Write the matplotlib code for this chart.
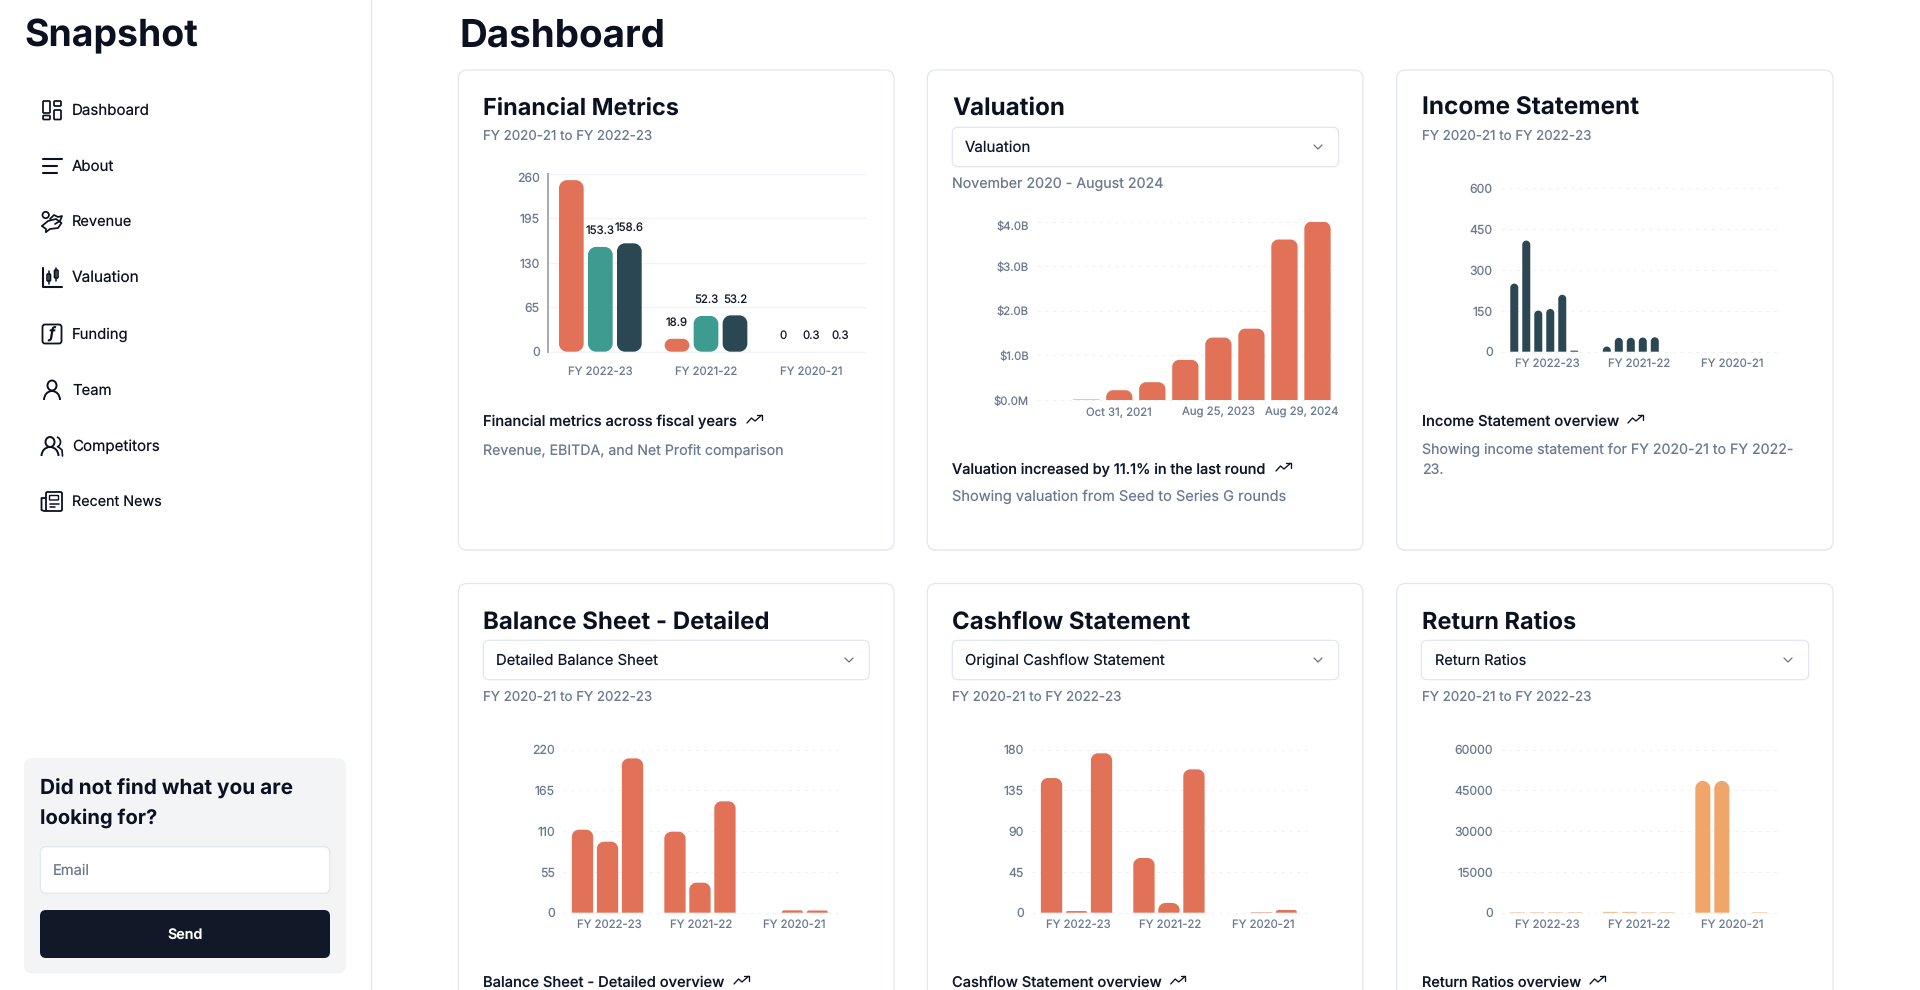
import matplotlib
matplotlib.use("Agg")
import matplotlib.pyplot as plt
from matplotlib.patches import FancyBboxPatch, PathPatch, Circle, Ellipse, Arc
from matplotlib.path import Path
from matplotlib.transforms import ScaledTranslation

# ---------- data ----------
fy_labels = ["FY 2022-23", "FY 2021-22", "FY 2020-21"]

fm_ticks = [0, 65, 130, 195, 260]
fm_revenue = [251, 18.9, 0]
fm_ebitda = [153.3, 52.3, 0.3]
fm_net_profit = [158.6, 53.2, 0.3]
fm_revenue_labels = ["", "18.9", "0"]
fm_ebitda_labels = ["153.3", "52.3", "0.3"]
fm_net_profit_labels = ["158.6", "53.2", "0.3"]

val_ticks = [0, 1, 2, 3, 4]
val_tick_labels = ["$0.0M", "$1.0B", "$2.0B", "$3.0B", "$4.0B"]
val_rounds = [0, 1, 2, 3, 4, 5, 6, 7, 8]
val_billions = [0.0, 0.01, 0.22, 0.40, 0.90, 1.40, 1.60, 3.60, 4.00]
val_label_rounds = [2, 5, 8]
val_labels = ["Oct 31, 2021", "Aug 25, 2023", "Aug 29, 2024"]

inc_ticks = [0, 150, 300, 450, 600]
inc_a = [250, 18.9, 0]
inc_b = [408, 51, 0.3]
inc_c = [151, 51, 0.3]
inc_d = [157, 52, 0.3]
inc_e = [209, 53, 0.3]
inc_f = [4, 0, 0]

bs_ticks = [0, 55, 110, 165, 220]
bs_a = [112, 109.3, 0]
bs_b = [95.8, 40.5, 3.2]
bs_c = [208.3, 150.3, 3]

cf_ticks = [0, 45, 90, 135, 180]
cf_a = [148.7, 60.4, 0]
cf_b = [1.8, 10.7, 0.5]
cf_c = [176, 158.3, 3]

rr_ticks = [0, 15000, 30000, 45000, 60000]
rr_a = [160, 300, 48500]
rr_b = [160, 300, 48500]
rr_c = [160, 160, 0]
rr_d = [160, 160, 160]

# ---------- style ----------
W, H = 1920, 990
FONT = ["Inter", "Noto Sans", "DejaVu Sans"]
plt.rcParams["font.family"] = FONT
plt.rcParams["text.hinting"] = "no_hinting"
CORAL, TEAL, NAVY, SAND = "#E27257", "#3E9B8F", "#2C4754", "#F0A66A"
INK, MUTED, BORDER = "#0b1120", "#6b7a90", "#e2e6f0"

fig = plt.figure(figsize=(W / 100, H / 100), dpi=100, facecolor="white")
ch = fig.add_axes([0, 0, 1, 1], zorder=0)
ch.set_xlim(0, W)
ch.set_ylim(H, 0)
ch.axis("off")
renderer = fig.canvas.get_renderer()


def fit_size(s, width, weight="normal"):
    t = fig.text(0, 0, s, fontsize=20, fontweight=weight)
    w = t.get_window_extent(renderer).width
    t.remove()
    return 20 * width / w


def T(x0, x1, base, s, color=INK, weight="normal", ha="left", size=None):
    fs = size if size else fit_size(s, x1 - x0, weight)
    x = x0 if ha == "left" else (x0 + x1) / 2
    ch.text(x, base, s, fontsize=fs, color=color, fontweight=weight, ha=ha, va="baseline", clip_on=True)


def box(x0, y0, x1, y1, r, fc="white", ec=BORDER, lw=0.9, z=1):
    ch.add_patch(FancyBboxPatch((x0, y0), x1 - x0, y1 - y0, boxstyle=f"round,pad=0,rounding_size={r}",
                                fc=fc, ec=ec, lw=lw, zorder=z, clip_on=True))


def L(xs, ys, lw=1.5, c=INK):
    ch.plot(xs, ys, color=c, lw=lw, solid_capstyle="round", solid_joinstyle="round", zorder=3)


def trend(x0, yc):
    y0 = yc - 4
    L([x0, x0 + 4.5, x0 + 8, x0 + 14.5], [y0 + 8, y0 + 3, y0 + 6, y0 + 0.3], lw=0.95)
    L([x0 + 10, x0 + 14.5, x0 + 14.5], [y0 + 0.3, y0 + 0.3, y0 + 4.5], lw=0.95)


def chevron(xc, yc):
    L([xc - 4, xc, xc + 4], [yc - 2, yc + 2, yc - 2], lw=0.9, c="#6b7280")


def rounded_bar_path(x, w, h, rx, ry, both):
    k = 0.5523
    x0, x1 = x, x + w
    top = h
    ry_b = ry if both else 0
    rxb = rx if both else 0
    v = [(x0, ry_b)]
    c = [Path.MOVETO]
    v += [(x0, top - ry)]
    c += [Path.LINETO]
    v += [(x0, top - ry + k * ry), (x0 + rx - k * rx, top), (x0 + rx, top)]
    c += [Path.CURVE4] * 3
    v += [(x1 - rx, top)]
    c += [Path.LINETO]
    v += [(x1 - rx + k * rx, top), (x1, top - ry + k * ry), (x1, top - ry)]
    c += [Path.CURVE4] * 3
    v += [(x1, ry_b)]
    c += [Path.LINETO]
    if both:
        v += [(x1, ry_b - k * ry_b), (x1 - rxb + k * rxb, 0), (x1 - rxb, 0)]
        c += [Path.CURVE4] * 3
        v += [(x0 + rxb, 0)]
        c += [Path.LINETO]
        v += [(x0 + rxb - k * rxb, 0), (x0, ry_b - k * ry_b), (x0, ry_b)]
        c += [Path.CURVE4] * 3
    else:
        v += [(x0, 0)]
        c += [Path.LINETO]
    v += [v[0]]
    c += [Path.CLOSEPOLY]
    return Path(v, c)


def make_axes(x0, x1, ytop, ybot, n, ymax, ticks, tick_labels=None, solid_grid=False):
    ax = fig.add_axes([x0 / W, 1 - ybot / H, (x1 - x0) / W, (ybot - ytop) / H], zorder=2)
    ax.patch.set_alpha(0)
    ax.set_xlim(-0.5, n - 0.5)
    ax.set_ylim(0, ymax)
    for s in ax.spines.values():
        s.set_visible(False)
    ax.set_yticks(ticks)
    ax.set_yticklabels(tick_labels if tick_labels else [str(t) for t in ticks])
    tfs = fit_size("FY 2022-23", 64.7)
    ax.tick_params(axis="both", length=0, labelcolor=MUTED, labelsize=tfs)
    ax.tick_params(axis="y", pad=5.6, labelsize=tfs if tick_labels else tfs * 1.08)
    ax.set_axisbelow(True)
    if solid_grid:
        ax.grid(axis="y", color="#f3f4f8", lw=1.0, ls="-", clip_on=False)
    else:
        ax.grid(axis="y", color="#eef0f4", lw=0.8, dashes=(3, 4), clip_on=False)
    return ax, (x1 - x0) / n, (ybot - ytop) / ymax


def draw_bars(ax, ppx, ppy, positions, offset_px, width_px, values, color, r_px, both=False):
    pos = [p + offset_px / ppx for p in positions]
    w = width_px / ppx
    bars = ax.bar(pos, values, width=w, color=color, linewidth=0)
    for rect in bars:
        h = rect.get_height()
        h_px = h * ppy
        rect.set_visible(False)
        if h_px < 0.3:
            continue
        r = min(r_px, width_px / 2, h_px / 2 if both else h_px)
        path = rounded_bar_path(rect.get_x(), rect.get_width(), h, r / ppx, r / ppy, both)
        ax.add_patch(PathPatch(path, fc=color, ec="none", lw=0, zorder=2.5))
    return pos


def shift_label(lab, dx_px=0, dy_px=0):
    lab.set_transform(lab.get_transform() + ScaledTranslation(dx_px / 100, -dy_px / 100, fig.dpi_scale_trans))


def x_fy(ax, pad_px):
    ax.set_xticks(range(3))
    ax.set_xticklabels(fy_labels)
    ax.tick_params(axis="x", pad=pad_px * 0.72)


# ---------- page chrome ----------
ch.plot([371, 371], [0, H], color="#e3e8f0", lw=1.0, zorder=1)
T(24.5, 198.4, 46.8, "Snapshot", weight="bold")
T(459, 665, 46.8, "Dashboard", weight="bold")

nav = [("Dashboard", 110, 78), ("About", 166, 42.4), ("Revenue", 222, 60.4), ("Valuation", 278, 67.8),
       ("Funding", 334, 56.7), ("Team", 390, 39.6), ("Competitors", 446, 87.8), ("Recent News", 501, 89.8)]
for name, yc, w in nav:
    T(72.2, 72.2 + w, yc + 5, name, color=INK, weight="normal")

# icons
for (a, b, c, d) in [(43, 101, 50, 113), (43, 115.5, 50, 119.5), (54, 101, 61, 106), (54, 110, 61, 119.5)]:
    box(a, b, c, d, 1, fc="none", ec=INK, lw=1.25, z=3)
L([42.5, 62], [159, 159], lw=1.5)
L([42.5, 57], [166, 166], lw=1.5)
L([42.5, 57], [172.5, 172.5], lw=1.5)
ch.add_patch(Circle((45.7, 215), 3.2, fc="none", ec=INK, lw=1.25, zorder=3))
L([42, 48, 56, 61.5, 58, 50, 46], [226, 221, 219, 223, 228, 229, 232], lw=1.25)
L([42, 46, 46], [226, 229, 232], lw=1.25)
L([50, 54, 58, 62, 60, 55], [219, 215, 217, 216, 221, 224], lw=1.25)
L([42.5, 42.5, 62], [268, 287, 287], lw=1.5)
box(47, 274, 50.5, 281, 1, fc="none", ec=INK, lw=1.2, z=3)
L([48.8, 48.8], [271, 284], lw=1.1)
box(54.5, 270, 58, 278, 1, fc="none", ec=INK, lw=1.2, z=3)
L([56.2, 56.2], [268, 281], lw=1.1)
box(42.5, 324.5, 61.5, 343.5, 2.5, fc="none", ec=INK, lw=1.3, z=3)
ch.text(52, 339, "f", fontsize=11, fontweight="bold", style="italic", ha="center", color=INK, zorder=3)
ch.add_patch(Ellipse((52, 385.5), 9, 10, fc="none", ec=INK, lw=1.4, zorder=3))
ch.add_patch(Arc((52, 400), 16, 18, theta1=180, theta2=360, ec=INK, lw=1.4, zorder=3))
ch.add_patch(Ellipse((50, 442), 9, 10, fc="none", ec=INK, lw=1.4, zorder=3))
ch.add_patch(Arc((50, 456), 17, 18, theta1=180, theta2=360, ec=INK, lw=1.4, zorder=3))
ch.add_patch(Arc((56, 442), 9, 10, theta1=-80, theta2=80, ec=INK, lw=1.2, zorder=3))
L([58.5, 62, 62.5], [447, 450, 456], lw=1.2)
box(46, 492, 62, 511, 1.5, fc="none", ec=INK, lw=1.3, z=3)
L([46, 41.5, 41.5, 44, 46], [498, 498, 510, 511, 511], lw=1.3)
box(49.5, 495.5, 58.5, 500, 0.5, fc="none", ec=INK, lw=1.0, z=3)
L([49.5, 58.5], [503.5, 503.5], lw=1.1)
L([49.5, 55], [507, 507], lw=1.1)

# contact box
box(24, 758, 346, 973.7, 9, fc="#f3f4f6", ec="none", lw=0)
T(40, 293.3, 795, "Did not find what you are", weight="bold")
T(40, 157.3, 823.3, "looking for?", weight="bold")
box(40.3, 846.7, 329.7, 893.3, 6, fc="white", ec=BORDER)
T(53.3, 90.3, 875, "Email", color=MUTED)
box(40, 910, 330, 958, 6, fc="#111827", ec="none", lw=0)
T(167.3, 202.7, 939, "Send", color="white", weight="semibold")

# cards
cards = [(458.3, 894), (927.3, 1363), (1396.7, 1833)]
for (a, b) in cards:
    box(a, 71, b, 551, 9, fc="#f0f1f5", ec="none", lw=0, z=0.9)
    box(a, 70, b, 550, 9)
    box(a, 584.5, b, 1040, 9, fc="#f0f1f5", ec="none", lw=0, z=0.9)
    box(a, 583.5, b, 1040, 9)

# card text
T(483.3, 679.3, 115, "Financial Metrics", weight="bold")
T(483.3, 652.7, 140.3, "FY 2020-21 to FY 2022-23", color=MUTED)
T(483.3, 737.3, 426, "Financial metrics across fiscal years", color="#0f172a", weight="medium")
trend(747, 419)
T(483.3, 784.3, 454, "Revenue, EBITDA, and Net Profit comparison", color=MUTED)

T(952.3, 1065.3, 115, "Valuation", weight="bold")
box(952.3, 127.3, 1338.7, 166.7, 6)
T(965.3, 1031.7, 152, "Valuation", color="#0f172a")
chevron(1318, 147)
T(952.3, 1164, 188.3, "November 2020 - August 2024", color=MUTED)
T(952.3, 1266, 474.3, "Valuation increased by 11.1% in the last round", color="#0f172a", weight="medium")
trend(1276, 467)
T(952.3, 1286.7, 501.3, "Showing valuation from Seed to Series G rounds", color=MUTED)

T(1421.7, 1639, 115, "Income Statement", weight="bold")
T(1421.7, 1591.3, 140.3, "FY 2020-21 to FY 2022-23", color=MUTED)
T(1421.7, 1619, 426, "Income Statement overview", color="#0f172a", weight="medium")
trend(1628, 419)
desc_line = "Showing income statement for FY 2020-21 to FY 2022-"
T(1421.7, 1793.3, 454, desc_line, color=MUTED)
T(1421.7, 1440, 474, "23.", color=MUTED, size=fit_size(desc_line, 1793.3 - 1421.7))

row2 = [
    (483.3, 770, "Balance Sheet - Detailed", 483.3, 869.3, 495.7, 657.7, "Detailed Balance Sheet", 849,
     652.7, 724.7, "Balance Sheet - Detailed overview", 734),
    (952.3, 1190.7, "Cashflow Statement", 952.3, 1338.7, 965.3, 1165.3, "Original Cashflow Statement", 1318,
     1122, 1162, "Cashflow Statement overview", 1170.7),
    (1421.7, 1576, "Return Ratios", 1421.3, 1808.7, 1434.7, 1526, "Return Ratios", 1788,
     1591.3, 1581, "Return Ratios overview", 1590),
]
for (tl, tr, title, sl, sr, stl, str_, stxt, chev, subr, fr, foot, tx) in row2:
    T(tl, tr, 628.4, title, weight="bold")
    box(sl, 640.3, sr, 679.7, 6)
    T(stl, str_, 665, stxt, color="#0f172a")
    chevron(chev, 660)
    T(tl, subr, 701.3, "FY 2020-21 to FY 2022-23", color=MUTED)
    T(tl, fr, 986.7, foot, color="#0f172a", weight="medium")
    trend(tx, 980)

# ---------- chart 1: financial metrics ----------
ax, ppx, ppy = make_axes(547.5, 864.5, 174, 351.7, 3, 260, fm_ticks, solid_grid=True)
x_fy(ax, 15)
pos3 = list(range(3))
label_fs = fit_size("153.3", 29)
for off, vals, col, labs in [(-29, fm_revenue, CORAL, fm_revenue_labels),
                             (0, fm_ebitda, TEAL, fm_ebitda_labels),
                             (29, fm_net_profit, NAVY, fm_net_profit_labels)]:
    p = draw_bars(ax, ppx, ppy, pos3, off, 24.7, vals, col, 8, both=True)
    for xx, v, s in zip(p, vals, labs):
        if s:
            ax.annotate(s, (xx, v), xytext=(0, 16 * 0.72), textcoords="offset points", ha="center",
                        va="center", fontsize=label_fs, color="#111827", annotation_clip=False)
ax.plot([-0.5 + 0.8 / ppx] * 2, [0, 260], color="#a6a8b2", lw=1.4, clip_on=False, zorder=2)
shift_label(ax.get_yticklabels()[-1], dy_px=3.3)

# ---------- chart 2: valuation ----------
ax, ppx, ppy = make_axes(1036.7, 1334, 221.7, 400, 9, 4, val_ticks, val_tick_labels)
draw_bars(ax, ppx, ppy, val_rounds, 0, 26.3, val_billions, CORAL, 7)
ax.set_xticks(val_label_rounds)
ax.set_xticklabels(val_labels)
ax.tick_params(axis="x", pad=7 * 0.72)
shift_label(ax.get_xticklabels()[-1], dx_px=-16)
shift_label(ax.get_yticklabels()[-1], dy_px=4)

# ---------- chart 3: income statement ----------
ax, ppx, ppy = make_axes(1500.7, 1778.3, 188.3, 351.7, 3, 600, inc_ticks)
x_fy(ax, 7)
for off, vals in zip([-32.7, -20.7, -8.7, 3.3, 15.3, 27.3], [inc_a, inc_b, inc_c, inc_d, inc_e, inc_f]):
    draw_bars(ax, ppx, ppy, pos3, off, 8, vals, NAVY, 4)

# ---------- chart 4: balance sheet ----------
ax, ppx, ppy = make_axes(562.7, 840, 749.7, 912.7, 3, 220, bs_ticks)
x_fy(ax, 7)
for off, vals in zip([-26.4, -1.4, 23.6], [bs_a, bs_b, bs_c]):
    draw_bars(ax, ppx, ppy, pos3, off, 21.3, vals, CORAL, 7)

# ---------- chart 5: cashflow ----------
ax, ppx, ppy = make_axes(1031.7, 1309, 749.7, 912.7, 3, 180, cf_ticks)
x_fy(ax, 7)
for off, vals in zip([-26.4, -1.4, 23.6], [cf_a, cf_b, cf_c]):
    draw_bars(ax, ppx, ppy, pos3, off, 21.3, vals, CORAL, 7)

# ---------- chart 6: return ratios ----------
ax, ppx, ppy = make_axes(1500.7, 1778.3, 749.7, 912.7, 3, 60000, rr_ticks)
x_fy(ax, 7)
for off, vals in zip([-29.2, -10.2, 8.8, 27.8], [rr_a, rr_b, rr_c, rr_d]):
    draw_bars(ax, ppx, ppy, pos3, off, 15, vals, SAND, 7.5)

fig.savefig("out.png", dpi=100, facecolor="white")
